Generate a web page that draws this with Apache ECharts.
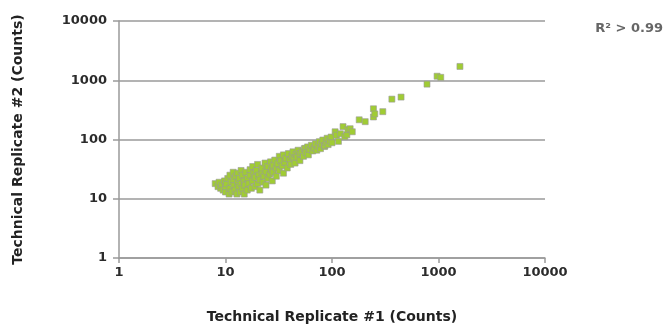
<!DOCTYPE html>
<html>
<head>
<meta charset="utf-8">
<script src="https://cdn.jsdelivr.net/npm/echarts@6/dist/echarts.min.js"></script>
<style>
  html, body { margin: 0; padding: 0; background: #fff; }
  #chart { width: 667px; height: 329px; }
</style>
</head>
<body>
<div id="chart"></div>
<script>
// Replicate counts: [replicate #1, replicate #2]
const lowCounts = [
  [8, 18], [8.5, 16], [8.7, 19], [9, 15], [9.2, 17], [9.5, 14], [9.8, 20], [10, 13], [10, 16], [10.2, 18],
  [10.5, 22], [10.8, 12], [11, 15], [11, 25], [11.3, 19], [11.5, 13], [11.8, 28], [12, 17], [12, 21], [12.3, 14],
  [12.5, 24], [12.8, 12], [13, 19], [13, 27], [13.3, 16], [13.5, 22], [13.8, 13], [14, 18], [14, 30], [14.5, 15],
  [14.5, 25], [15, 20], [15, 12], [15.2, 17]
];
const midCounts = [
  [15.5, 28], [16, 14], [16, 22], [16.5, 18], [17, 25], [17, 31], [17.5, 15], [18, 20], [18, 35], [18.5, 27],
  [19, 16], [19, 23], [19.5, 30], [20, 18], [20, 38], [20.5, 25], [21, 21], [21, 14], [22, 28], [22, 33],
  [22.5, 19], [23, 24], [23.5, 40], [24, 17], [24, 29], [25, 22], [25, 35],
  [26, 26], [26.5, 42], [27, 31], [27.5, 20], [28, 37], [28, 28], [29, 45], [30, 33], [30, 24], [31, 39],
  [32, 52], [32, 30], [33, 44], [34, 36], [35, 55], [35, 27], [36, 41], [37, 48], [38, 33], [39, 58],
  [40, 45], [41, 38], [42, 52], [43, 62], [44, 47], [45, 40], [46, 56], [47, 50], [48, 66], [50, 58], [50, 44]
];
const highCounts = [
  [52, 62], [54, 52], [55, 70], [56, 71], [57, 60], [59, 75], [60, 55], [62, 68], [64, 80], [66, 64], [68, 72],
  [70, 85], [72, 66], [74, 78], [76, 92], [78, 70], [80, 84], [82, 98], [85, 76], [86, 79], [88, 90], [90, 105],
  [92, 82], [95, 95], [98, 110], [100, 88],
  [107, 135], [110, 118], [115, 93], [120, 125], [127, 165], [132, 112], [138, 120], [141, 147], [148, 152],
  [155, 135], [180, 215], [205, 200], [245, 240], [245, 330], [252, 270], [300, 295], [365, 480], [445, 520],
  [780, 860], [970, 1170], [1050, 1120], [1590, 1710]
];
const tickValues = [1, 10, 100, 1000, 10000];
const r2Label = 'R\u00B2 > 0.99';

const points = lowCounts.concat(midCounts, highCounts);

const labelFont = { fontFamily: 'DejaVu Sans', fontWeight: 'bold', fontSize: 13, color: '#2b2b2b' };
const gridGray = '#9a9a9a';
const plainNumber = v => String(Math.round(v));

const chart = echarts.init(document.getElementById('chart'), null, { renderer: 'canvas' });
chart.setOption({
  animation: false,
  backgroundColor: '#fff',
  grid: { left: 119, right: 122, top: 21, bottom: 68, containLabel: false },
  xAxis: {
    type: 'log', logBase: 10, min: tickValues[0], max: tickValues[tickValues.length - 1],
    name: 'Technical Replicate #1 (Counts)',
    nameLocation: 'middle', nameGap: 52,
    nameTextStyle: { fontFamily: 'DejaVu Sans', fontWeight: 'bold', fontSize: 14, color: '#222' },
    axisLine: { show: true, lineStyle: { color: gridGray, width: 1.5 } },
    axisTick: { show: true, length: 5, lineStyle: { color: gridGray, width: 1.5 } },
    splitLine: { show: false },
    axisLabel: Object.assign({ margin: 8, formatter: plainNumber }, labelFont)
  },
  yAxis: {
    type: 'log', logBase: 10, min: tickValues[0], max: tickValues[tickValues.length - 1],
    name: 'Technical Replicate #2 (Counts)',
    nameLocation: 'middle', nameGap: 94, nameRotate: 90,
    nameTextStyle: { fontFamily: 'DejaVu Sans', fontWeight: 'bold', fontSize: 14, color: '#222' },
    axisLine: { show: true, lineStyle: { color: gridGray, width: 1.5 } },
    axisTick: { show: true, length: 6, lineStyle: { color: gridGray, width: 1.5 } },
    splitLine: { show: true, lineStyle: { color: gridGray, width: 1.5 } },
    axisLabel: Object.assign({ margin: 12, formatter: plainNumber }, labelFont)
  },
  graphic: [{
    type: 'text', right: 4, top: 22,
    style: { text: r2Label, font: 'bold 13px "DejaVu Sans"', fill: '#666' }
  }],
  series: [{
    type: 'scatter',
    symbol: 'rect',
    symbolSize: 6,
    data: points,
    itemStyle: { color: '#a0cc34', borderColor: '#9a9a9a', borderWidth: 0.6, opacity: 1 }
  }]
});
</script>
</body>
</html>
